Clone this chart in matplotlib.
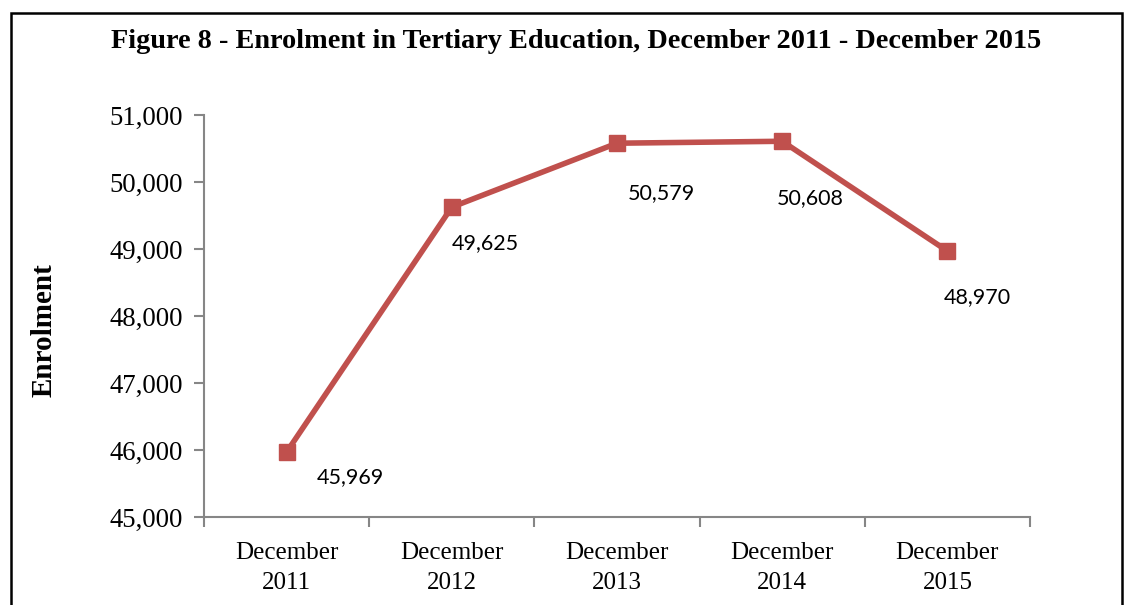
import matplotlib.pyplot as plt
from matplotlib.patches import Rectangle

# Chart data
categories = ['December\n2011', 'December\n2012', 'December\n2013', 'December\n2014', 'December\n2015']
enrolment = [45969, 49625, 50579, 50608, 48970]
y_ticks = [45000, 46000, 47000, 48000, 49000, 50000, 51000]

# manual label offsets in pixels (Excel-style positioned labels)
label_offsets = [(64, -25), (34, -36), (44, -50), (28, -57), (30, -46)]

fig = plt.figure(figsize=(11.26, 6.05), dpi=100)
ax = fig.add_axes([204 / 1126, 88 / 605, 826 / 1126, 402 / 605])

x = list(range(len(categories)))
ax.plot(x, enrolment, color='#C0504D', linewidth=4, marker='s', markersize=11,
        markerfacecolor='#C0504D', markeredgecolor='#C0504D')

for xi, val, off in zip(x, enrolment, label_offsets):
    ax.annotate(f'{val:,}', (xi, val), xytext=off, textcoords='offset pixels',
                ha='center', va='center', fontsize=15.5, family='Lato', color='black')

ax.set_xlim(-0.5, len(categories) - 0.5)
ax.set_ylim(45000, 51000)
ax.set_yticks(y_ticks)
ax.set_yticklabels([f'{v:,}' for v in y_ticks], family='Liberation Serif', fontsize=19.3)

# category labels centred, ticks between categories
ax.set_xticks(x)
ax.set_xticklabels(categories, family='Liberation Serif', fontsize=18, linespacing=1.45)
ax.tick_params(axis='x', length=0, pad=18)
ax.set_xticks([i - 0.5 for i in range(len(categories) + 1)], minor=True)
ax.tick_params(axis='x', which='minor', length=7, width=1.5, color='#868686')
ax.tick_params(axis='y', length=7, width=1.5, color='#868686', pad=8)

for side in ['top', 'right']:
    ax.spines[side].set_visible(False)
for side in ['left', 'bottom']:
    ax.spines[side].set_color('#868686')
    ax.spines[side].set_linewidth(1.5)

ax.set_ylabel('Enrolment', family='Liberation Serif', fontweight='bold', fontsize=21)
ax.yaxis.set_label_coords((58 - 204) / 826, 0.465)

fig.text(576 / 1126, 1 - 42 / 605,
         'Figure 8 - Enrolment in Tertiary Education, December 2011 - December 2015',
         ha='center', va='center', family='Liberation Serif', fontweight='bold', fontsize=20.3)

# outer frame
fig.patches.append(Rectangle((11 / 1126, -0.05), 1111 / 1126, 1.05 - 13 / 605,
                             transform=fig.transFigure, fill=False,
                             edgecolor='black', linewidth=1.8))

fig.savefig('out.png', dpi=100)
